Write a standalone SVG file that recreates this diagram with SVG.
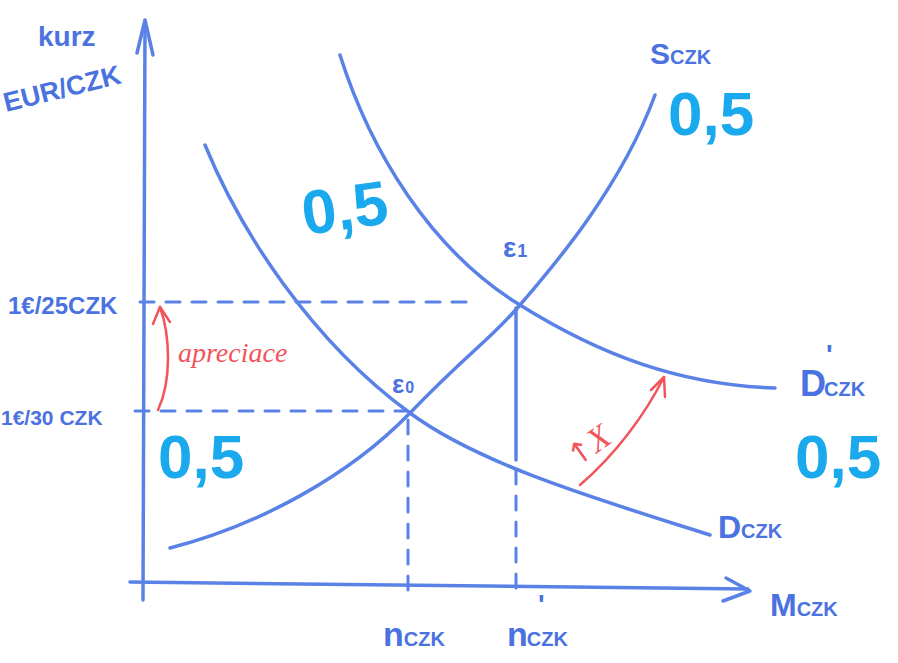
<svg xmlns="http://www.w3.org/2000/svg" width="898" height="663" viewBox="0 0 898 663">
<style>
.ln{fill:none;stroke:#5a82e6;stroke-width:3.5;stroke-linecap:round;stroke-linejoin:round}
.ds{fill:none;stroke:#5a82e6;stroke-width:3;stroke-dasharray:14 12;stroke-linecap:round}
.red{fill:none;stroke:#f2545b;stroke-width:2.5;stroke-linecap:round;stroke-linejoin:round}
.t{font-family:"Liberation Sans",Arial,sans-serif;fill:#4a72e0;font-weight:bold}
.tr{font-family:"Liberation Serif","Times New Roman",serif;fill:#f2545b;font-style:italic}
.big{font-family:"Liberation Sans",Arial,sans-serif;fill:#1aa9ec;font-weight:bold}
.arw{font-family:"DejaVu Sans",sans-serif;font-style:normal}
</style>
<rect width="898" height="663" fill="#ffffff"/>
<g id="connectors">
<path class="ln" d="M143,600 L145,22"/>
<path class="ln" d="M137,53 L145,20 L153,55"/>
<path class="ln" d="M130,582 L748,589"/>
<path class="ln" d="M726,578 L750,591 L723,601"/>
<path class="ds" d="M140,302 L475,302"/>
<path class="ds" d="M135,411 L405,411"/>
<path class="ds" d="M408,420 L408,595"/>
<path class="ln" d="M516,308 L516,460"/>
<path class="ds" d="M516,470 L516,595"/>
<path class="red" d="M158,410 C172,380 170,335 160,307"/>
<path class="red" d="M153,324 L160,307 L170,322"/>
<path class="red" d="M580,485 C615,455 645,415 664,377"/>
<path class="red" d="M651,390 L664,377 L665,397"/>
</g>
<g id="S_curve"><path class="ln" d="M170,548 C260,525 350,475 410,413 C470,351 490,340 520,305 C550,270 620,190 655,95"/></g>
<g id="D_curve"><path class="ln" d="M205,145 C240,230 310,340 410,413 C480,465 600,500 710,535"/></g>
<g id="D1_curve"><path class="ln" d="M340,55 C370,150 430,250 520,305 C600,355 680,385 775,388"/></g>
<g id="y_label">
<text class="t" x="38" y="46" font-size="28">kurz</text>
<text class="t" x="6" y="112" font-size="27" transform="rotate(-14 6 112)">EUR/CZK</text>
</g>
<g id="rate25"><text class="t" x="8" y="314" font-size="24">1€/25CZK</text></g>
<g id="rate30"><text class="t" x="1" y="425" font-size="21">1€/30 CZK</text></g>
<g id="apreciace"><text class="tr" x="178" y="362" font-size="28">apreciace</text></g>
<g id="E0"><text class="t" x="392" y="393" font-size="26">ε<tspan font-size="16" dx="1">0</tspan></text></g>
<g id="E1"><text class="t" x="503" y="257" font-size="28">ε<tspan font-size="18" dx="1">1</tspan></text></g>
<g id="S_label"><text class="t" x="650" y="64" font-size="30">S<tspan font-size="20">CZK</tspan></text></g>
<g id="D1_label">
<text class="t" x="800" y="396" font-size="36">D<tspan font-size="20" dx="-2">CZK</tspan></text>
<text class="t" x="826" y="364" font-size="28">'</text>
</g>
<g id="D_label"><text class="t" x="718" y="538" font-size="32">D<tspan font-size="20">CZK</tspan></text></g>
<g id="M_label"><text class="t" x="770" y="616" font-size="32">M<tspan font-size="20">CZK</tspan></text></g>
<g id="n_label"><text class="t" x="383" y="646" font-size="34">n<tspan font-size="20">CZK</tspan></text></g>
<g id="n1_label">
<text class="t" x="507" y="646" font-size="34">n<tspan font-size="20" dx="-1">CZK</tspan></text>
<text class="t" x="538" y="614" font-size="28">'</text>
</g>
<g id="x_arrow_label"><text class="tr" x="576" y="468" font-size="34" font-style="normal" transform="rotate(-35 576 468)"><tspan class="arw" font-size="30">↑</tspan>X</text></g>
<g id="score1"><text class="big" x="668" y="135" font-size="62">0,5</text></g>
<g id="score2"><text class="big" x="305" y="235" font-size="62" transform="rotate(-8 305 235)">0,5</text></g>
<g id="score3"><text class="big" x="158" y="478" font-size="62">0,5</text></g>
<g id="score4"><text class="big" x="795" y="478" font-size="62">0,5</text></g>
</svg>
